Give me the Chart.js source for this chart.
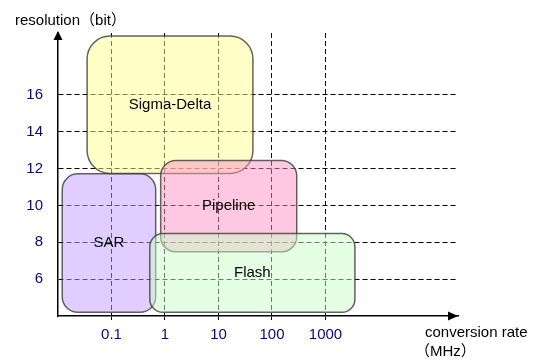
<!DOCTYPE html>
<html lang="en">

<head>
    <meta charset="UTF-8">
    <script src="https://cdn.jsdelivr.net/npm/chart.js"></script>
    <title>ADC resolution vs conversion rate</title>
    <style>
        body { margin: 0; background: #fff; }
        canvas { display: block; }
    </style>
</head>

<body>
    <canvas id="graficoAdc" width="535" height="363"></canvas>
</body>

</html>

<script>
    // ADC families: conversion rate range (MHz) and resolution range (bit)
    var adcNames = ['Sigma-Delta', 'SAR', 'Pipeline', 'Flash']
    var rateMin = [0.035, 0.012, 0.83, 0.52]
    var rateMax = [44, 0.67, 290, 3550]
    var bitsMin = [11.73, 4.2, 7.48, 4.2]
    var bitsMax = [19.19, 11.71, 12.43, 8.47]
    var adcColors = ['rgba(255,255,145,0.5)', 'rgba(195,155,255,0.5)', 'rgba(255,145,195,0.5)', 'rgba(201,255,201,0.5)']

    var rateTicks = [0.1, 1, 10, 100, 1000]
    var bitTicks = [6, 8, 10, 12, 14, 16]

    var fonte = '15px "Liberation Sans", Arial, "Noto Sans CJK JP", sans-serif'

    // rounded boxes + labels, drawn through the chart scales
    var caixas = {
        id: 'caixas',
        afterDatasetsDraw(chart) {
            var ctx = chart.ctx
            var x = chart.scales.x
            var y = chart.scales.y
            ctx.save()
            for (var i = 0; i < adcNames.length; i++) {
                var x1 = x.getPixelForValue(rateMin[i])
                var x2 = x.getPixelForValue(rateMax[i])
                var y1 = y.getPixelForValue(bitsMax[i])
                var y2 = y.getPixelForValue(bitsMin[i])
                var r = Math.min(x2 - x1, y2 - y1) / 6
                ctx.beginPath()
                ctx.roundRect(x1, y1, x2 - x1, y2 - y1, r)
                ctx.fillStyle = adcColors[i]
                ctx.fill()
                ctx.lineWidth = 1.5
                ctx.strokeStyle = 'rgba(60,60,60,0.8)'
                ctx.stroke()
            }
            ctx.fillStyle = '#000'
            ctx.font = fonte
            ctx.textAlign = 'center'
            ctx.textBaseline = 'middle'
            for (var i = 0; i < adcNames.length; i++) {
                var cx = (x.getPixelForValue(rateMin[i]) + x.getPixelForValue(rateMax[i])) / 2
                var cy = (y.getPixelForValue(bitsMin[i]) + y.getPixelForValue(bitsMax[i])) / 2
                ctx.fillText(adcNames[i], cx, cy)
            }

            // axis arrows
            var a = chart.chartArea
            ctx.fillStyle = '#000'
            ctx.beginPath()
            ctx.moveTo(a.left, a.top - 2)
            ctx.lineTo(a.left - 4.5, a.top + 7)
            ctx.lineTo(a.left + 4.5, a.top + 7)
            ctx.closePath()
            ctx.fill()
            ctx.beginPath()
            ctx.moveTo(a.right, a.bottom)
            ctx.lineTo(a.right - 10, a.bottom - 4.5)
            ctx.lineTo(a.right - 10, a.bottom + 4.5)
            ctx.closePath()
            ctx.fill()

            // axis titles
            ctx.textAlign = 'left'
            ctx.fillText('resolution（bit）', 15, 21)
            ctx.fillText('conversion rate', 425, 333)
            ctx.fillText('（MHz）', 415, 352)
            ctx.restore()
        }
    }

    var graficoAdc = new Chart(document.getElementById('graficoAdc').getContext('2d'), {
        type: 'scatter',
        data: { datasets: [{ data: [] }] },
        plugins: [caixas],
        options: {
            responsive: false,
            animation: false,
            devicePixelRatio: 1,
            layout: { padding: { top: 33, right: 77, left: 0, bottom: 0 } },
            plugins: { legend: { display: false }, tooltip: { enabled: false } },
            scales: {
                x: {
                    type: 'logarithmic',
                    min: 0.01,
                    max: 300000,
                    afterBuildTicks: (s) => { s.ticks = rateTicks.map(v => ({ value: v })) },
                    afterFit: (s) => { s.height = 47 },
                    grid: { color: '#000', lineWidth: 1, tickLength: 4, tickColor: '#000' },
                    border: { display: true, color: '#000', width: 1.5, dash: [5, 3] },
                    ticks: {
                        color: '#0a0a70',
                        padding: 6,
                        maxRotation: 0,
                        autoSkip: false,
                        font: { family: '"Liberation Sans", Arial, sans-serif', size: 15 },
                        callback: (v) => String(v)
                    }
                },
                y: {
                    type: 'linear',
                    min: 4,
                    max: 19.35,
                    afterBuildTicks: (s) => { s.ticks = bitTicks.map(v => ({ value: v })) },
                    afterFit: (s) => { s.width = 58 },
                    grid: { color: '#000', lineWidth: 1, drawTicks: false },
                    border: { display: true, color: '#000', width: 1.5, dash: [5, 3] },
                    ticks: {
                        color: '#0a0a70',
                        padding: 15,
                        autoSkip: false,
                        font: { family: '"Liberation Sans", Arial, sans-serif', size: 15 }
                    }
                }
            }
        }
    });
</script>
